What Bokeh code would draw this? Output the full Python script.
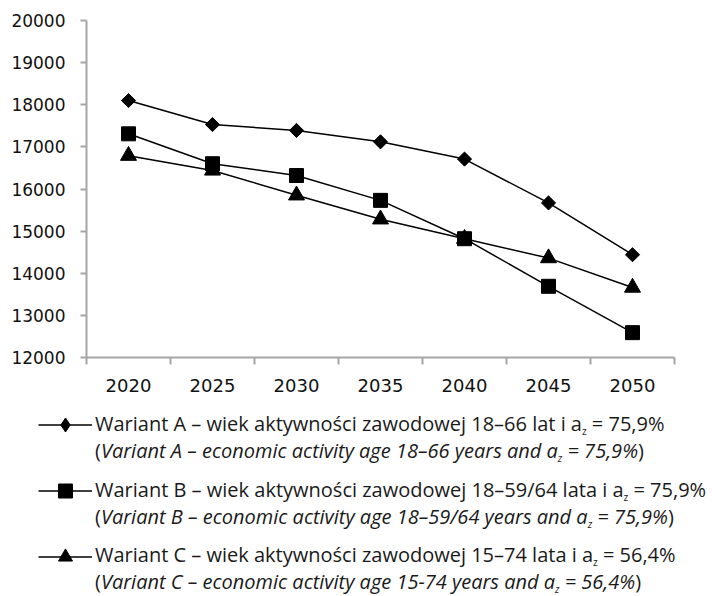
import math
from bokeh.plotting import figure
from bokeh.models import Range1d, FixedTicker, Legend, LegendItem, Div
from bokeh.core.properties import value
from bokeh.layouts import column, row
from bokeh.embed import file_html
from bokeh.resources import INLINE

# ---- data ----
years = [2020, 2025, 2030, 2035, 2040, 2045, 2050]
variant_a = [18100, 17530, 17390, 17120, 16710, 15670, 14440]
variant_b = [17310, 16600, 16320, 15730, 14820, 13690, 12590]
variant_c = [16790, 16440, 15850, 15280, 14820, 14360, 13660]
y_ticks = [12000, 13000, 14000, 15000, 16000, 17000, 18000, 19000, 20000]

legend_pl = [
    "Wariant A – wiek aktywności zawodowej 18–66 lat i a{z} = 75,9%",
    "Wariant B – wiek aktywności zawodowej 18–59/64 lata i a{z} = 75,9%",
    "Wariant C – wiek aktywności zawodowej 15–74 lata i a{z} = 56,4%",
]
legend_en = [
    "Variant A – economic activity age 18–66 years and a{z} = 75,9%",
    "Variant B – economic activity age 18–59/64 years and a{z} = 75,9%",
    "Variant C – economic activity age 15-74 years and a{z} = 56,4%",
]

AXIS_COLOR = "#a5a5a5"

p = figure(width=712, height=400,
           x_range=Range1d(2017.5, 2052.5), y_range=Range1d(12000, 20000),
           output_backend="svg", toolbar_location=None,
           min_border_left=86, min_border_right=38,
           min_border_top=20, min_border_bottom=43)
p.xgrid.visible = False
p.ygrid.visible = False
p.outline_line_color = None
p.background_fill_color = "white"

xa = p.xaxis[0]
xa.ticker = FixedTicker(ticks=years, minor_ticks=[2017.5 + 5 * i for i in range(len(years) + 1)])
xa.axis_line_color = AXIS_COLOR
xa.axis_line_width = 2
xa.major_tick_out = 0
xa.major_tick_in = 0
xa.minor_tick_out = 7
xa.minor_tick_in = 0
xa.minor_tick_line_color = AXIS_COLOR
xa.minor_tick_line_width = 2
xa.major_label_standoff = 14
xa.major_label_text_font = "DejaVu Sans"
xa.major_label_text_font_size = "18px"
xa.major_label_text_color = "#111111"

ya = p.yaxis[0]
ya.ticker = FixedTicker(ticks=y_ticks)
ya.axis_line_color = AXIS_COLOR
ya.axis_line_width = 2
ya.major_tick_out = 6
ya.major_tick_in = 0
ya.major_tick_line_color = AXIS_COLOR
ya.major_tick_line_width = 2
ya.minor_tick_out = 0
ya.minor_tick_in = 0
ya.major_label_standoff = 15
ya.major_label_text_font = "DejaVu Sans"
ya.major_label_text_font_size = "17px"
ya.major_label_text_color = "#111111"

styles = [
    dict(marker="square", angle=math.pi / 4, size=10, key="diamond"),
    dict(marker="square", angle=0.0, size=14, key="square"),
    dict(marker="triangle", angle=0.0, size=16, key="triangle"),
]
series = [variant_a, variant_b, variant_c]

for vals, st in zip(series, styles):
    p.line(years, vals, line_color="black", line_width=1.5)
    p.scatter(years, vals, marker=st["marker"], angle=st["angle"], size=st["size"],
              fill_color="black", line_color="black", line_width=1)

# ---- legend keys (small figure, same series kept out of view) ----
legfig = figure(width=95, height=196, x_range=Range1d(0, 1), y_range=Range1d(0, 1),
                x_axis_type=None, y_axis_type=None, output_backend="svg",
                toolbar_location=None, min_border=0)
legfig.outline_line_color = None
items = []
for vals, st in zip(series, styles):
    lr = legfig.line(years, vals, line_color="black", line_width=1.5)
    sr = legfig.scatter(years, vals, marker=st["key"], size=st["size"],
                        fill_color="black", line_color="black", line_width=1)
    items.append(LegendItem(label=value(""), renderers=[lr, sr]))
legend = Legend(items=items, location=(38, 22), glyph_width=54, glyph_height=35,
                label_height=35, label_width=0, label_standoff=0, spacing=31,
                padding=0, margin=0, border_line_color=None, background_fill_alpha=0)
legfig.add_layout(legend)

# ---- legend text ----
SUB = '<span style="font-size:10px;position:relative;top:4px;">z</span>'
tops = [12, 78, 143]
blocks = []
for pl, en, t in zip(legend_pl, legend_en, tops):
    l1 = pl.replace("{z}", SUB)
    l2 = "(<i>" + en.replace("{z}", SUB) + "</i>)"
    blocks.append(
        f'<div style="position:absolute;left:0px;top:{t}px;white-space:nowrap;">{l1}<br>{l2}</div>'
    )
html = ('<div style="position:relative;width:617px;height:196px;margin:0;padding:0;'
        'font-family:\'Open Sans\';font-size:20px;line-height:23px;color:#1a1a1a;">'
        + "".join(blocks) + '</div>')
div = Div(text=html, width=617, height=196, margin=0)

layout = column(p, row(legfig, div))
open("out.html", "w").write(file_html(layout, INLINE))
